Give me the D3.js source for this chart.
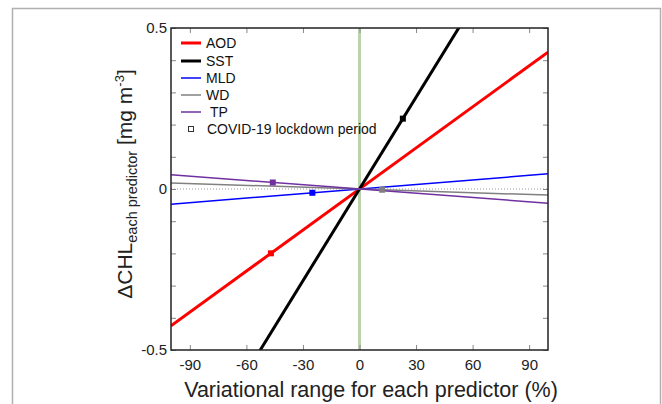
<!DOCTYPE html>
<html>
<head>
<meta charset="utf-8">
<script src="https://cdn.jsdelivr.net/npm/d3@7"></script>
<style>
  body { margin: 0; background: #fff; }
  svg { font-family: Arial, "Liberation Sans", sans-serif; }
</style>
</head>
<body>
<svg id="chart" width="662" height="404"></svg>
<script>
// Sensitivity of CHL to each predictor: slope in mg m^-3 per % change
const predictors = ["AOD", "SST", "MLD", "WD", "TP"];
const slopes = [0.00425, 0.0095, 0.00047, -0.00019, -0.00044];
const colors = ["#ff0000", "#000000", "#0000ff", "#808080", "#7030a0"];
const widths = [3, 3, 1.5, 1.5, 1.5];
// lockdown-period position along each line (% change)
const lockdownX = [-47, 23, -25, 12, -46];
const xTicks = [-90, -60, -30, 0, 30, 60, 90];
const yTicks = [-0.5, -0.4, -0.3, -0.2, -0.1, 0, 0.1, 0.2, 0.3, 0.4, 0.5];
const yLabels = [-0.5, 0, 0.5];

const svg = d3.select("#chart");
const margin = { left: 171, right: 114, top: 28, bottom: 54 };
const W = 662, H = 404;

// outer figure frame
svg.append("rect")
    .attr("x", 12.5).attr("y", 8.5)
    .attr("width", 648).attr("height", 410)
    .attr("fill", "none")
    .attr("stroke", "#b0b0b0")
    .attr("stroke-width", 1.5);

const x = d3.scaleLinear().domain([-100, 100]).range([margin.left, W - margin.right]);
const y = d3.scaleLinear().domain([-0.5, 0.5]).range([H - margin.bottom, margin.top]);

svg.append("clipPath").attr("id", "plotClip")
    .append("rect")
    .attr("x", x(-100)).attr("y", y(0.5))
    .attr("width", x(100) - x(-100)).attr("height", y(-0.5) - y(0.5));

// zero reference lines
svg.append("line")
    .attr("x1", x(0)).attr("x2", x(0))
    .attr("y1", y(0.5)).attr("y2", y(-0.5))
    .attr("stroke", "#bcd2ae").attr("stroke-width", 3);
svg.append("line")
    .attr("x1", x(-100)).attr("x2", x(100))
    .attr("y1", y(0)).attr("y2", y(0))
    .attr("stroke", "#999").attr("stroke-width", 1)
    .attr("stroke-dasharray", "1,2");

// hyphen instead of unicode minus, as in the original figure
const fmt = d => String(d);

// axes with inward ticks on all four sides
const tickLen = 5;
svg.append("g")
    .attr("transform", `translate(0,${y(-0.5)})`)
    .call(d3.axisBottom(x).tickValues(xTicks).tickSizeInner(-tickLen).tickSizeOuter(0).tickPadding(9).tickFormat(fmt))
    .call(g => g.select(".domain").remove());
svg.append("g")
    .attr("transform", `translate(0,${y(0.5)})`)
    .call(d3.axisTop(x).tickValues(xTicks).tickSizeInner(-tickLen).tickSizeOuter(0).tickFormat(""))
    .call(g => g.select(".domain").remove());
svg.append("g")
    .attr("transform", `translate(${x(-100)},0)`)
    .call(d3.axisLeft(y).tickValues(yTicks).tickSizeInner(-tickLen).tickSizeOuter(0).tickPadding(4)
        .tickFormat(d => yLabels.some(v => Math.abs(v - d) < 1e-9) ? fmt(d) : ""))
    .call(g => g.select(".domain").remove());
svg.append("g")
    .attr("transform", `translate(${x(100)},0)`)
    .call(d3.axisRight(y).tickValues(yTicks).tickSizeInner(-tickLen).tickSizeOuter(0).tickFormat(""))
    .call(g => g.select(".domain").remove());

svg.selectAll(".tick line").attr("stroke", "#888");
svg.selectAll(".tick text").attr("font-size", 15).attr("fill", "#222")
    .attr("font-family", "Arial, 'Liberation Sans', sans-serif");

// data lines
const plot = svg.append("g").attr("clip-path", "url(#plotClip)");
const line = d3.line().x(d => x(d[0])).y(d => y(d[1]));
predictors.forEach((p, i) => {
    plot.append("path")
        .attr("d", line([[-100, -100 * slopes[i]], [100, 100 * slopes[i]]]))
        .attr("fill", "none")
        .attr("stroke", colors[i])
        .attr("stroke-width", widths[i]);
});

// lockdown markers
predictors.forEach((p, i) => {
    const s = 6;
    plot.append("rect")
        .attr("x", x(lockdownX[i]) - s / 2)
        .attr("y", y(lockdownX[i] * slopes[i]) - s / 2)
        .attr("width", s).attr("height", s)
        .attr("fill", colors[i]);
});

// plot frame
svg.append("rect")
    .attr("x", x(-100)).attr("y", y(0.5))
    .attr("width", x(100) - x(-100)).attr("height", y(-0.5) - y(0.5))
    .attr("fill", "none").attr("stroke", "#222").attr("stroke-width", 1.5);

// legend
const legend = svg.append("g").attr("font-size", 14).attr("fill", "#111");
const legY = [43, 61, 78, 95, 112];
predictors.forEach((p, i) => {
    legend.append("line")
        .attr("x1", 181).attr("x2", 201)
        .attr("y1", legY[i]).attr("y2", legY[i])
        .attr("stroke", colors[i]).attr("stroke-width", widths[i]);
    legend.append("text")
        .attr("x", p === "TP" ? 210 : 206).attr("y", legY[i])
        .attr("dy", "0.36em")
        .text(p);
});
legend.append("rect")
    .attr("x", 188.5).attr("y", 126.5).attr("width", 5).attr("height", 5)
    .attr("fill", "none").attr("stroke", "#333").attr("stroke-width", 1);
legend.append("text")
    .attr("x", 207).attr("y", 129).attr("dy", "0.36em")
    .text("COVID-19 lockdown period");

// axis titles
svg.append("text")
    .attr("x", 371).attr("y", 397)
    .attr("text-anchor", "middle")
    .attr("font-size", 21.5).attr("fill", "#222")
    .text("Variational range for each predictor (%)");

const yt = svg.append("text")
    .attr("transform", "translate(132,184) rotate(-90)")
    .attr("text-anchor", "middle")
    .attr("font-size", 21).attr("fill", "#222");
yt.append("tspan").text("\u0394CHL");
yt.append("tspan").attr("font-size", 14.5).attr("dy", 5).text("each predictor");
yt.append("tspan").attr("dy", -5).text(" [mg m");
yt.append("tspan").attr("font-size", 13).attr("dy", -8).text("-3");
yt.append("tspan").attr("dy", 8).text("]");
</script>
</body>
</html>
